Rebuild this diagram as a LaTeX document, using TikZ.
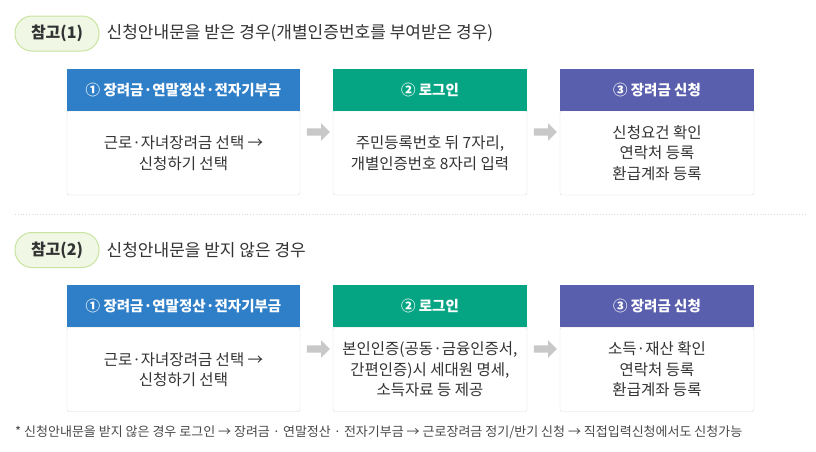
\documentclass[tikz,border=0pt]{standalone}
\usepackage{fontspec}
\setmainfont{Noto Sans CJK KR}
\usetikzlibrary{positioning}
\usetikzlibrary{shapes.arrows}
\definecolor{stepblue}{RGB}{47,127,200}
\definecolor{stepgreen}{RGB}{5,165,132}
\definecolor{steppurple}{RGB}{89,95,173}
\definecolor{boxgray}{RGB}{218,218,218}
\definecolor{arrowgray}{RGB}{200,200,200}
\definecolor{textgray}{RGB}{51,51,51}
\definecolor{pillfill}{RGB}{240,247,229}
\definecolor{pillline}{RGB}{200,228,158}
\tikzset{
  stephead/.style={fill=#1, text=white, font=\bfseries\fontsize{14.5}{16}\selectfont,
    minimum height=42pt, inner sep=0pt},
  stepbody/.style={draw=boxgray, fill=white, rounded corners=2pt, minimum height=84pt,
    inner sep=0pt, align=center, text=textgray, font=\fontsize{15.5}{20.5}\selectfont},
  nextarrow/.style={single arrow, fill=arrowgray, draw=none, minimum height=23pt,
    inner sep=3.5pt, single arrow head extend=5pt},
  notepill/.style={fill=pillfill, draw=pillline, line width=1pt, rounded corners=17pt,
    minimum width=84pt, minimum height=35pt, text=textgray,
    font=\bfseries\fontsize{16}{18}\selectfont},
  notetitle/.style={text=textgray, font=\fontsize{17}{19}\selectfont, inner sep=0pt},
  footnote/.style={text=textgray!90, font=\fontsize{13}{15}\selectfont, inner sep=0pt}
}
\begin{document}
\begin{tikzpicture}[x=1pt,y=-1pt]
  \useasboundingbox (0,0) rectangle (816,451);

  % first case
  \node[notepill] (p1) at (57,33.5) {참고(1)};
  \node[notetitle, right=7pt of p1] (t1) {신청안내문을 받은 경우(개별인증번호를 부여받은 경우)};

  \node[stepbody, minimum width=233pt] (b1) at (183.5,153) {근로·자녀장려금 선택 →\\신청하기 선택};
  \node[stephead=stepblue, minimum width=233pt, above=0pt of b1] (h1) {① 장려금·연말정산·전자기부금};
  \node[stepbody, minimum width=194pt] (b2) at (430,153) {주민등록번호 뒤 7자리,\\개별인증번호 8자리 입력};
  \node[stephead=stepgreen, minimum width=194pt, above=0pt of b2] (h2) {② 로그인};
  \node[stepbody, minimum width=194pt] (b3) at (657,153) {신청요건 확인\\연락처 등록\\환급계좌 등록};
  \node[stephead=steppurple, minimum width=194pt, above=0pt of b3] (h3) {③ 장려금 신청};
  \node[nextarrow] (a1) at (316.5,132) {};
  \node[nextarrow] (a2) at (543.5,132) {};

  \draw[boxgray, dotted, line width=0.8pt] (15,214) -- (806,214);

  % second case
  \node[notepill] (p2) at (57,250) {참고(2)};
  \node[notetitle, right=7pt of p2] (t2) {신청안내문을 받지 않은 경우};

  \node[stepbody, minimum width=233pt] (b4) at (183.5,369.5) {근로·자녀장려금 선택 →\\신청하기 선택};
  \node[stephead=stepblue, minimum width=233pt, above=0pt of b4] (h4) {① 장려금·연말정산·전자기부금};
  \node[stepbody, minimum width=194pt] (b5) at (430,369.5) {본인인증(공동·금융인증서,\\간편인증)시 세대원 명세,\\소득자료 등 제공};
  \node[stephead=stepgreen, minimum width=194pt, above=0pt of b5] (h5) {② 로그인};
  \node[stepbody, minimum width=194pt] (b6) at (657,369.5) {소득·재산 확인\\연락처 등록\\환급계좌 등록};
  \node[stephead=steppurple, minimum width=194pt, above=0pt of b6] (h6) {③ 장려금 신청};
  \node[nextarrow] (a3) at (316.5,349) {};
  \node[nextarrow] (a4) at (543.5,349) {};

  \node[footnote, anchor=west] (fn) at (15,432) {* 신청안내문을 받지 않은 경우 로그인 → 장려금 · 연말정산 · 전자기부금 → 근로장려금 정기/반기 신청 → 직접입력신청에서도 신청가능};
\end{tikzpicture}
\end{document}
